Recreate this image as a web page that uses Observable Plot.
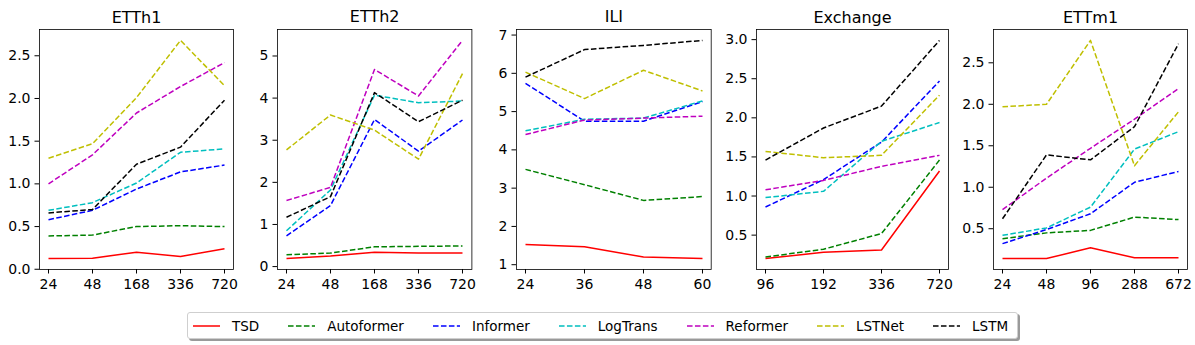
<!DOCTYPE html>
<html><head><meta charset="utf-8">
<script src="https://cdn.jsdelivr.net/npm/d3@7"></script>
<script src="https://cdn.jsdelivr.net/npm/@observablehq/plot@0.6"></script>
<style>
body{margin:0;background:#fff;font-family:"DejaVu Sans",sans-serif;}
#root{position:relative;width:1195px;height:345px;overflow:hidden;background:#fff;}
.panel{position:absolute;top:0;}
#legend{position:absolute;left:187px;top:312px;width:829px;height:25px;border:1px solid #cfcfcf;border-radius:3px;background:#fff;box-shadow:2px 2px 0 #9a9a9a;display:flex;align-items:center;box-sizing:content-box;font-size:13.5px;color:#000;}
.item{display:flex;align-items:center;white-space:nowrap;}
.item svg{margin-right:12px;}
</style></head><body><div id="root"></div><script>
const methods = ["TSD","Autoformer","Informer","LogTrans","Reformer","LSTNet","LSTM"];
const colors = ["red","green","blue","#00bfbf","#bf00bf","#bfbf00","black"];
const dashed = [false,true,true,true,true,true,true];

// ETTh1
const etth1Horizons = ["24","48","168","336","720"];
const etth1Values = [
  [0.125,0.13,0.20,0.15,0.24],
  [0.39,0.40,0.50,0.51,0.50],
  [0.58,0.69,0.94,1.14,1.22],
  [0.69,0.78,1.01,1.37,1.41],
  [1.00,1.34,1.83,2.14,2.42],
  [1.30,1.47,2.01,2.68,2.15],
  [0.66,0.70,1.23,1.43,1.98]
];
const etth1Ticks = [0,0.5,1,1.5,2,2.5];

// ETTh2
const etth2Horizons = ["24","48","168","336","720"];
const etth2Values = [
  [0.19,0.25,0.34,0.32,0.32],
  [0.28,0.32,0.47,0.48,0.49],
  [0.73,1.45,3.49,2.74,3.48],
  [0.85,1.82,4.07,3.89,3.93],
  [1.57,1.88,4.68,4.05,5.37],
  [2.77,3.60,3.24,2.55,4.58],
  [1.17,1.66,4.13,3.44,3.95]
];
const etth2Ticks = [0,1,2,3,4,5];

// ILI
const iliHorizons = ["24","36","48","60"];
const iliValues = [
  [1.53,1.47,1.20,1.16],
  [3.49,3.09,2.68,2.78],
  [5.74,4.75,4.75,5.26],
  [4.50,4.80,4.83,5.28],
  [4.40,4.78,4.83,4.88],
  [6.03,5.34,6.08,5.54],
  [5.90,6.62,6.73,6.86]
];
const iliTicks = [1,2,3,4,5,6,7];

// Exchange
const exchangeHorizons = ["96","192","336","720"];
const exchangeValues = [
  [0.20,0.28,0.31,1.32],
  [0.22,0.32,0.52,1.46],
  [0.86,1.21,1.69,2.47],
  [0.98,1.06,1.70,1.94],
  [1.08,1.20,1.38,1.52],
  [1.57,1.49,1.52,2.29],
  [1.46,1.87,2.15,2.99]
];
const exchangeTicks = [0.5,1,1.5,2,2.5,3];

// ETTm1
const ettm1Horizons = ["24","48","96","288","672"];
const ettm1Values = [
  [0.14,0.14,0.27,0.15,0.15],
  [0.38,0.45,0.48,0.64,0.61],
  [0.32,0.49,0.68,1.06,1.19],
  [0.42,0.51,0.76,1.46,1.67],
  [0.73,1.11,1.47,1.82,2.19],
  [1.97,2.00,2.77,1.26,1.91],
  [0.62,1.39,1.33,1.73,2.73]
];
const ettm1Ticks = [0.5,1,1.5,2,2.5];

const f1 = d3.format(".1f"), f0 = d3.format("d");
const panels = [
  {title:"ETTh1", horizons:etth1Horizons, values:etth1Values, ticks:etth1Ticks, fmt:f1, left:39.3, width:194},
  {title:"ETTh2", horizons:etth2Horizons, values:etth2Values, ticks:etth2Ticks, fmt:f0, left:277.3, width:194.4},
  {title:"ILI", horizons:iliHorizons, values:iliValues, ticks:iliTicks, fmt:f0, left:516, width:194.7},
  {title:"Exchange", horizons:exchangeHorizons, values:exchangeValues, ticks:exchangeTicks, fmt:f1, left:755.7, width:192},
  {title:"ETTm1", horizons:ettm1Horizons, values:ettm1Values, ticks:ettm1Ticks, fmt:f1, left:993.3, width:194}
];

const root = document.getElementById("root");
const ML = 45, MR = 7;
for (const p of panels) {
  const all = p.values.flat();
  const ext = d3.extent(all);
  const pad = (ext[1]-ext[0])*0.05;
  const inset = p.width*0.05/(1+0.1);
  const marks = [];
  methods.forEach((m,i)=>{
    const rows = p.horizons.map((h,j)=>({h, v:p.values[i][j]}));
    marks.push(Plot.line(rows, {x:"h", y:"v", stroke:colors[i], strokeWidth:1.5,
      strokeDasharray: dashed[i] ? "5.55,2.4" : null, strokeLinecap:"butt", strokeLinejoin:"round"}));
  });
  marks.push(Plot.frame({stroke:"black", strokeWidth:0.8}));
  marks.push(Plot.axisX({tickSize:4.5, tickPadding:5, fontSize:14}));
  marks.push(Plot.axisY({ticks:p.ticks, tickFormat:p.fmt, tickSize:4.5, tickPadding:4.5, fontSize:14}));
  marks.push(Plot.text([p.title], {frameAnchor:"top", dy:-7, lineAnchor:"bottom", fontSize:16, fill:"black"}));
  const chart = Plot.plot({
    width: ML + p.width + MR, height: 300,
    marginLeft: ML, marginRight: MR, marginTop: 29, marginBottom: 31,
    x: {type:"point", domain:p.horizons, padding:0, inset:inset, label:null},
    y: {domain:[ext[0]-pad, ext[1]+pad], label:null},
    style: {fontFamily:"DejaVu Sans", fontSize:"14px", color:"black", background:"transparent", overflow:"visible"},
    marks
  });
  chart.classList.add("panel");
  chart.style.left = (p.left - ML) + "px";
  root.appendChild(chart);
}

const legend = document.createElement("div");
legend.id = "legend";
methods.forEach((m,i)=>{
  const it = document.createElement("div");
  it.className = "item";
  it.style.marginLeft = i===0 ? "5px" : "29px";
  it.innerHTML = `<svg width="27" height="6"><line x1="0" x2="27" y1="3" y2="3" stroke="${colors[i]}" stroke-width="1.5" ${dashed[i]?'stroke-dasharray="5.55,2.4"':''}/></svg><span>${m}</span>`;
  legend.appendChild(it);
});
root.appendChild(legend);
</script></body></html>
